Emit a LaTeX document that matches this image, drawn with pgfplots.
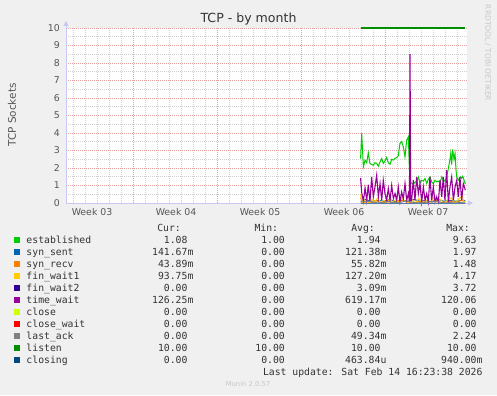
\documentclass[border=0pt]{standalone}
\usepackage{fontspec}
\setmainfont{DejaVu Sans}
\newfontfamily\monofont{DejaVu Sans Mono}
\usepackage{pgfplots}
\pgfplotsset{compat=1.18}
\usetikzlibrary{arrows.meta}

\definecolor{bgcol}{HTML}{F0F0F0}
\definecolor{txtcol}{HTML}{555555}
\definecolor{legtxt}{HTML}{333333}
\definecolor{mgrid}{HTML}{E6A0A0}
\definecolor{ngrid}{HTML}{D0D0D0}
\definecolor{axcol}{HTML}{C8C8F0}
\definecolor{cEst}{HTML}{00CC00}
\definecolor{cSynSent}{HTML}{0066B3}
\definecolor{cSynRecv}{HTML}{FF8000}
\definecolor{cFinW1}{HTML}{FFCC00}
\definecolor{cFinW2}{HTML}{330099}
\definecolor{cTimeW}{HTML}{990099}
\definecolor{cClose}{HTML}{CCFF00}
\definecolor{cCloseW}{HTML}{FF0000}
\definecolor{cLastAck}{HTML}{808080}
\definecolor{cListen}{HTML}{008F00}
\definecolor{cClosing}{HTML}{00487D}

\newcommand\lrow[7]{%
  \fill[#2] (14.3,#1+0.6) rectangle (20.0,#1+6.3);
  \node[anchor=base west] at (26.3,#1) {#3};
  \node[anchor=base east] at (187.7,#1) {#4};
  \node[anchor=base east] at (285,#1) {#5};
  \node[anchor=base east] at (380.7,#1) {#6};
  \node[anchor=base east] at (476.7,#1) {#7};
}

\begin{document}
\begin{tikzpicture}[x=1bp,y=1bp]
\path[use as bounding box, fill=bgcol] (0,0) rectangle (497,395);
\begin{axis}[
  at={(66bp,192bp)}, anchor=south west,
  scale only axis, width=401bp, height=175bp,
  xmin=0, xmax=33.417, ymin=0, ymax=10,
  clip=false,
  /pgf/number format/assume math mode=true,
  axis background/.style={fill=white},
  axis line style={draw=none},
  major tick length=0pt, minor tick length=0pt,
  ytick={0,1,...,10},
  minor ytick={0.5,1.5,...,9.5},
  xtick={2.17,9.17,16.17,23.17,30.17},
  xticklabels={Week 03,Week 04,Week 05,Week 06,Week 07},
  minor xtick={0.61,1.61,...,33.0},
  extra x ticks={5.61,12.61,19.61,26.61},
  extra x tick labels={},
  extra x tick style={grid=major},
  ymajorgrids, yminorgrids, xminorgrids,
  major grid style={draw=mgrid, line width=0.7bp, dash pattern=on 1bp off 1bp},
  minor grid style={draw=ngrid, line width=0.7bp, dash pattern=on 1bp off 1bp},
  tick label style={font=\fontsize{9.4}{10}\selectfont, text=txtcol, inner sep=0pt},
  yticklabel style={anchor=east, xshift=-6bp},
  xticklabel style={anchor=north, yshift=-5.5bp},
  every axis plot/.append style={line width=1bp, mark=none},
]
\draw[axcol, line width=1bp, -{Triangle[length=5bp,width=5bp]}] (rel axis cs:0,0) -- ([yshift=7bp]rel axis cs:0,1);
\draw[axcol, line width=1bp, -{Triangle[length=5bp,width=5bp]}] (rel axis cs:0,0) -- ([xshift=6bp]rel axis cs:1,0);
% established
\addplot[cEst] coordinates {
(24.55,2.54) (24.64,3.98) (24.78,2.07) (24.92,2.45) (25.06,2.30) (25.19,2.87)
(25.33,2.26) (25.47,2.20) (25.61,2.16) (25.75,2.30) (25.89,2.26) (26.03,2.10)
(26.17,2.35) (26.31,2.54) (26.44,2.26) (26.58,2.40) (26.72,2.60) (26.86,2.30)
(27.00,2.22) (27.14,2.50) (27.28,2.45) (27.42,2.55) (27.56,2.60) (27.69,2.70)
(27.83,3.41) (27.97,3.50) (28.11,3.21) (28.25,2.64) (28.39,3.60) (28.53,3.79)
(28.61,2.07) (28.67,1.11) (28.80,1.15) (28.94,1.07) (29.08,1.20) (29.22,1.21)
(29.36,1.49) (29.50,1.15) (29.64,1.30) (29.78,1.25) (29.92,1.40) (30.06,1.11)
(30.19,1.35) (30.33,1.49) (30.47,1.20) (30.61,1.11) (30.75,1.30) (30.89,1.21)
(31.03,1.25) (31.17,1.15) (31.31,1.49) (31.44,1.30) (31.58,1.25) (31.72,1.49)
(31.86,1.97) (32.00,2.50) (32.06,2.83) (32.14,2.20) (32.22,3.06) (32.33,2.50)
(32.42,2.83) (32.50,1.90) (32.56,1.49) (32.69,1.30) (32.83,1.45) (32.89,1.49)
(32.97,1.40) (33.06,1.53) (33.11,1.45) (33.17,1.30) (33.28,1.08)
};
% syn_sent
\addplot[cSynSent] coordinates {
(24.55,0.10) (25.0,0.20) (25.5,0.05) (26.0,0.15) (26.5,0.10) (27.0,0.20)
(27.5,0.05) (28.0,0.15) (28.5,0.10) (29.0,0.20) (29.5,0.10) (30.0,0.15)
(30.5,0.05) (31.0,0.20) (31.5,0.10) (32.0,0.15) (32.5,0.10) (33.0,0.15) (33.28,0.14)
};
% syn_recv
\addplot[cSynRecv] coordinates {
(24.55,0.30) (24.7,0.05) (25.0,0.10) (25.4,0.0) (25.8,0.15) (26.3,0.0)
(26.9,0.10) (27.3,0.0) (27.9,0.20) (28.4,0.05) (29.0,0.0) (29.5,0.10)
(30.1,0.0) (30.7,0.15) (31.3,0.0) (31.9,0.10) (32.5,0.05) (33.0,0.15) (33.28,0.04)
};
% fin_wait1
\addplot[cFinW1] coordinates {
(24.55,0.50) (24.6,0.30) (24.7,0.10) (24.8,0.25) (24.9,0.0) (25.1,0.10)
(25.3,0.0) (25.5,0.20) (25.7,0.05) (26.0,0.30) (26.2,0.0) (26.5,0.15)
(26.8,0.0) (27.0,0.30) (27.2,0.05) (27.5,0.20) (27.8,0.0) (28.0,0.35)
(28.2,0.10) (28.5,0.0) (28.8,0.20) (29.1,0.0) (29.4,0.25) (29.7,0.05)
(30.0,0.15) (30.3,0.0) (30.6,0.30) (30.9,0.05) (31.2,0.20) (31.5,0.0)
(31.8,0.15) (32.1,0.30) (32.4,0.0) (32.7,0.20) (33.0,0.40) (33.15,0.10) (33.28,0.09)
};
% fin_wait2
\addplot[cFinW2] coordinates {(24.55,0) (33.28,0)};
% time_wait
\addplot[cTimeW, line width=1.1bp] coordinates {
(24.55,1.42) (24.64,0.60) (24.78,0.10) (24.92,0.86) (25.06,0.15) (25.19,1.05)
(25.33,0.06) (25.47,1.49) (25.61,0.35) (25.75,0.92) (25.89,1.59) (26.03,0.35)
(26.17,1.11) (26.31,0.15) (26.44,1.30) (26.58,0.54) (26.72,0.15) (26.86,0.83)
(27.00,0.15) (27.14,1.01) (27.28,0.25) (27.42,0.54) (27.56,0.15) (27.69,0.92)
(27.83,0.06) (27.97,0.63) (28.11,0.25) (28.25,1.11) (28.39,0.15) (28.53,0.54)
(28.62,0.10) (28.67,8.51) (28.72,0.10) (28.80,0.15) (28.94,1.30) (29.08,0.15)
(29.22,1.49) (29.36,0.54) (29.50,1.11) (29.64,0.06) (29.78,0.92) (29.92,0.15)
(30.06,0.54) (30.19,0.06) (30.33,1.49) (30.47,0.15) (30.61,0.92) (30.75,0.06)
(30.89,0.35) (31.03,0.06) (31.17,1.30) (31.31,0.35) (31.44,1.49) (31.58,0.15)
(31.72,1.87) (31.86,0.06) (32.00,0.92) (32.14,1.49) (32.28,0.15) (32.42,0.92)
(32.56,1.30) (32.69,0.35) (32.83,1.49) (32.97,0.15) (33.11,1.11) (33.28,0.73)
};
% close, close_wait
\addplot[cClose] coordinates {(24.55,0) (33.28,0)};
\addplot[cCloseW] coordinates {(24.55,0) (33.28,0)};
% last_ack
\addplot[cLastAck] coordinates {
(24.55,0.05) (25.2,0.10) (26.0,0.0) (26.8,0.08) (27.6,0.0) (28.4,0.12)
(29.2,0.0) (30.0,0.05) (30.8,0.10) (31.6,0.0) (32.4,0.06) (33.28,0.0)
};
% listen
\addplot[cListen, line width=1.3bp] coordinates {(24.55,10) (33.28,10)};
% closing
\addplot[cClosing!60!axcol] coordinates {(24.55,0) (33.28,0)};
\end{axis}

% title and labels
\node[font=\fontsize{12.6}{14}\selectfont, text=legtxt, inner sep=0pt] at (248.5,376) {TCP - by month};
\node[font=\fontsize{10.5}{12}\selectfont, text=txtcol, rotate=90, inner sep=0pt] at (12,280) {TCP Sockets};
\node[font=\fontsize{7.5}{9}\selectfont, text=black!22, rotate=-90, inner sep=0pt] at (487.7,342) {RRDTOOL / TOBI OETIKER};

% legend
\begin{scope}[every node/.style={inner sep=0pt, font=\monofont\fontsize{9.8}{11}\selectfont, text=legtxt}]
\node[anchor=base east] at (181,163.3) {Cur:};
\node[anchor=base east] at (278.3,163.3) {Min:};
\node[anchor=base east] at (375,163.3) {Avg:};
\node[anchor=base east] at (470,163.3) {Max:};
\lrow{151.7}{cEst}{established}{1.08}{1.00}{1.94}{9.63}
\lrow{139.7}{cSynSent}{syn\_sent}{141.67\rlap{m}}{0.00}{121.38\rlap{m}}{1.97}
\lrow{127.7}{cSynRecv}{syn\_recv}{43.89\rlap{m}}{0.00}{55.82\rlap{m}}{1.48}
\lrow{115.7}{cFinW1}{fin\_wait1}{93.75\rlap{m}}{0.00}{127.20\rlap{m}}{4.17}
\lrow{103.7}{cFinW2}{fin\_wait2}{0.00}{0.00}{3.09\rlap{m}}{3.72}
\lrow{91.7}{cTimeW}{time\_wait}{126.25\rlap{m}}{0.00}{619.17\rlap{m}}{120.06}
\lrow{79.7}{cClose}{close}{0.00}{0.00}{0.00}{0.00}
\lrow{67.7}{cCloseW}{close\_wait}{0.00}{0.00}{0.00}{0.00}
\lrow{55.7}{cLastAck}{last\_ack}{0.00}{0.00}{49.34\rlap{m}}{2.24}
\lrow{43.7}{cListen}{listen}{10.00}{10.00}{10.00}{10.00}
\lrow{31.7}{cClosing}{closing}{0.00}{0.00}{463.84\rlap{u}}{940.00\rlap{m}}
\node[anchor=base east] at (482.7,19.3) {Last update: Sat Feb 14 16:23:38 2026};
\end{scope}
\node[font=\fontsize{6.8}{8}\selectfont, text=black!22, inner sep=0pt, anchor=base] at (248,8.3) {Munin 2.0.57};
\end{tikzpicture}
\end{document}
